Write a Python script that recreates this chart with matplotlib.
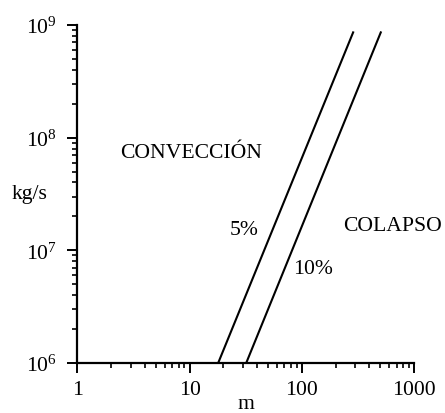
import matplotlib
matplotlib.use("Agg")
import matplotlib.pyplot as plt
from matplotlib.ticker import LogLocator, LogFormatterSciNotation, NullFormatter

plt.rcParams['font.family'] = ['Liberation Serif', 'DejaVu Serif']
plt.rcParams['mathtext.fontset'] = 'custom'
plt.rcParams['mathtext.rm'] = 'Liberation Serif'
plt.rcParams['mathtext.it'] = 'Liberation Serif:italic'

# Data
line_5_x = [18, 287]
line_5_y = [1e6, 8.6e8]
line_10_x = [32, 506]
line_10_y = [1e6, 8.6e8]

region_labels = ["CONVECCIÓN", "COLAPSO"]
curve_labels = ["5%", "10%"]

FS = 15.6

fig = plt.figure(figsize=(4.45, 4.14), dpi=100)
ax = fig.add_axes([0.1737, 0.1208, 0.7566, 0.8164])

ax.plot(line_5_x, line_5_y, color='black', lw=1.5)
ax.plot(line_10_x, line_10_y, color='black', lw=1.5)

ax.set_xscale('log')
ax.set_yscale('log')
ax.set_xlim(1, 1000)
ax.set_ylim(1e6, 1e9)

for s in ['top', 'right']:
    ax.spines[s].set_visible(False)
for s in ['left', 'bottom']:
    ax.spines[s].set_linewidth(1.6)

ax.xaxis.set_major_locator(LogLocator(base=10, numticks=10))
ax.xaxis.set_minor_locator(LogLocator(base=10, subs=range(2, 10), numticks=20))
ax.yaxis.set_major_locator(LogLocator(base=10, numticks=10))
ax.yaxis.set_minor_locator(LogLocator(base=10, subs=range(2, 10), numticks=20))
ax.xaxis.set_major_formatter(plt.FuncFormatter(lambda v, p: f"{v:g}"))
ax.xaxis.set_minor_formatter(NullFormatter())
ax.yaxis.set_major_formatter(LogFormatterSciNotation())
ax.yaxis.set_minor_formatter(NullFormatter())

ax.tick_params(which='major', direction='out', length=7.5, width=1.4, labelsize=FS)
ax.tick_params(which='minor', direction='out', length=3.8, width=1.2)
ax.tick_params(axis='y', which='major', pad=7)
ax.tick_params(axis='x', which='major', pad=5)

ax.text(2.4, 7.4e7, region_labels[0], fontsize=FS, ha='left', va='center')
ax.text(232, 1.66e7, region_labels[1], fontsize=FS, ha='left', va='center')
ax.text(22.9, 1.53e7, curve_labels[0], fontsize=FS, ha='left', va='center')
ax.text(83.4, 6.9e6, curve_labels[1], fontsize=FS, ha='left', va='center')

ax.set_xlabel('m', fontsize=FS, labelpad=-4)
fig.text(0.066, 0.529, 'kg/s', fontsize=FS, ha='center', va='center')

fig.savefig('out.png', dpi=100)
